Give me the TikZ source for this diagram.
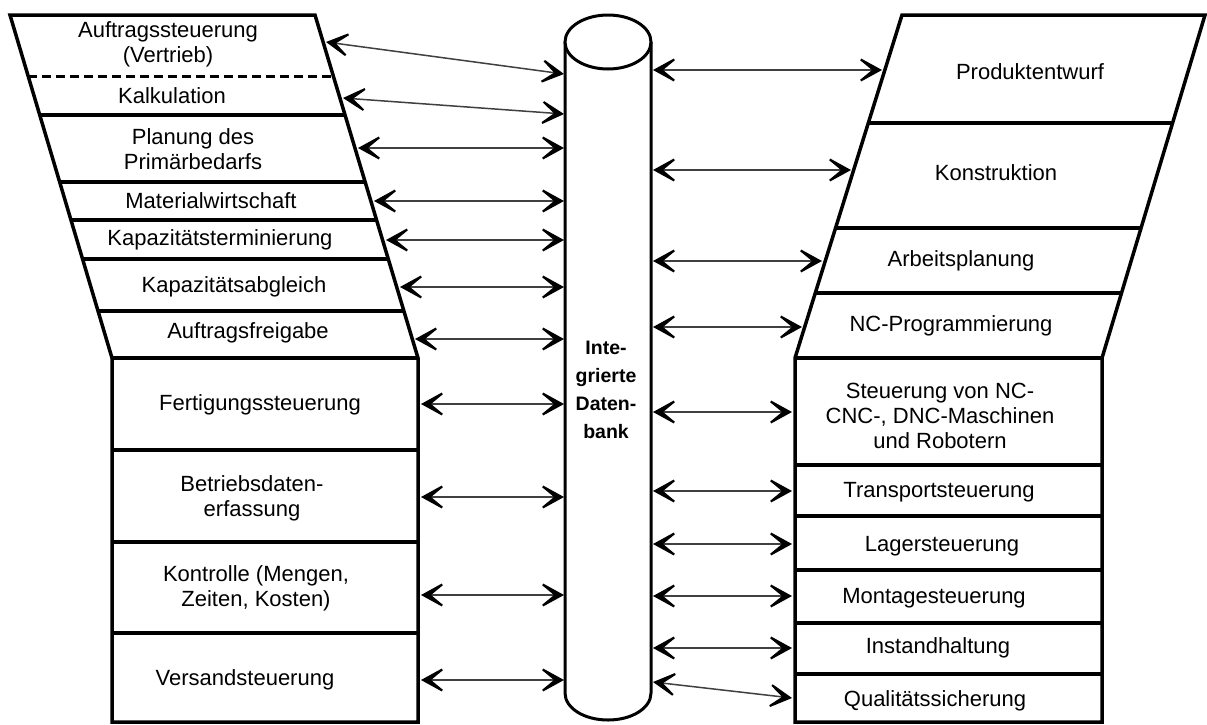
\documentclass[tikz,border=0pt]{standalone}
\usepackage{fontspec}
\setmainfont{Liberation Sans}
\usetikzlibrary{arrows.meta,calc}
\begin{document}
\begin{tikzpicture}[x=1pt,y=-1pt,
  box/.style={line width=3.5pt, line join=miter},
  sep/.style={line width=3.2pt},
  dsep/.style={line width=3pt, dash pattern=on 9pt off 5pt},
  lbl/.style={font=\fontsize{22}{25}\selectfont, align=center, inner sep=0pt},
  dblbl/.style={font=\fontsize{19.5}{28}\selectfont\bfseries, align=center, inner sep=0pt},
  barb/.tip={Stealth[length=30pt,width=33pt,inset=20pt,line width=2pt,color=black]},
  link/.style={line width=1.5pt, draw=black!75, barb-barb},
]
\useasboundingbox (0,0) rectangle (1207,724);
\fill[white] (0,0) rectangle (1207,724);

% ---------- left block ----------
\coordinate (LTL) at (10,15);
\coordinate (LTR) at (315,15);
\coordinate (LBL) at (112,358);
\coordinate (LBR) at (418,358);
\draw[box] (LTL) -- (LTR) -- (LBR) -- (418,722) -- (112,722) -- (LBL) -- cycle;
\draw[dsep] ($(LTL)!{(76-15)/343}!(LBL)$) -- ($(LTR)!{(76-15)/343}!(LBR)$);
\foreach \yy in {115,182,220,259,311}
  \draw[sep] ($(LTL)!{(\yy-15)/343}!(LBL)$) -- ($(LTR)!{(\yy-15)/343}!(LBR)$);
\foreach \yy in {358,450,542,633}
  \draw[sep] (112,\yy) -- (418,\yy);

% ---------- right block ----------
\coordinate (RTL) at (902,15);
\coordinate (RTR) at (1205,15);
\coordinate (RBL) at (795,358);
\coordinate (RBR) at (1102,358);
\draw[box] (RTL) -- (RTR) -- (RBR) -- (1102,722) -- (795,722) -- (RBL) -- cycle;
\foreach \yy in {123,228,293}
  \draw[sep] ($(RTL)!{(\yy-15)/343}!(RBL)$) -- ($(RTR)!{(\yy-15)/343}!(RBR)$);
\foreach \yy in {358,465,516,570,623,674}
  \draw[sep] (795,\yy) -- (1102,\yy);

% ---------- cylinder ----------
\draw[line width=3pt, fill=white] (565,42) -- (565,693)
  .. controls (565,708) and (584,720) .. (608,720)
  .. controls (632,720) and (651,708) .. (651,693) -- (651,42);
\draw[line width=3pt, fill=white] (608,42) ellipse [x radius=43, y radius=27];
\node[dblbl] (db) at (606,390) {Inte-\\grierte\\Daten-\\bank};

% ---------- texts ----------
\node[lbl] (t1) at (168,44) {Auftragssteuerung\\(Vertrieb)};
\node[lbl] (t2) at (172,96) {Kalkulation};
\node[lbl] (t3) at (193,149) {Planung des\\Primärbedarfs};
\node[lbl] (t4) at (211,201) {Materialwirtschaft};
\node[lbl] (t5) at (220,240) {Kapazitätsterminierung};
\node[lbl] (t6) at (234,287) {Kapazitätsabgleich};
\node[lbl] (t7) at (248,333) {Auftragsfreigabe};
\node[lbl] (t8) at (260,405) {Fertigungssteuerung};
\node[lbl] (t9) at (252,498) {Betriebsdaten-\\erfassung};
\node[lbl] (t10) at (256,588) {Kontrolle (Mengen,\\Zeiten, Kosten)};
\node[lbl] (t11) at (245,680) {Versandsteuerung};

\node[lbl] (r1) at (1030,72) {Produktentwurf};
\node[lbl] (r2) at (996,173) {Konstruktion};
\node[lbl] (r3) at (961,261) {Arbeitsplanung};
\node[lbl] (r4) at (951,326) {NC-Programmierung};
\node[lbl] (r5) at (940,416) {Steuerung von NC-\\CNC-, DNC-Maschinen\\und Robotern};
\node[lbl] (r6) at (939,492) {Transportsteuerung};
\node[lbl] (r7) at (942,546) {Lagersteuerung};
\node[lbl] (r8) at (934,598) {Montagesteuerung};
\node[lbl] (r9) at (938,648) {Instandhaltung};
\node[lbl] (r10) at (935,701) {Qualitätssicherung};

% ---------- connector end points ----------
\coordinate (la1) at (326,42);  \coordinate (ca1) at (564,74);
\coordinate (la2) at (343,98);  \coordinate (ca2) at (564,114);
\coordinate (la3) at (358,148); \coordinate (ca3) at (564,148);
\coordinate (la4) at (374,201); \coordinate (ca4) at (564,201);
\coordinate (la5) at (386,240); \coordinate (ca5) at (564,240);
\coordinate (la6) at (400,287); \coordinate (ca6) at (564,287);
\coordinate (la7) at (415,339); \coordinate (ca7) at (564,339);
\coordinate (la8) at (421,404); \coordinate (ca8) at (564,404);
\coordinate (la9) at (421,497); \coordinate (ca9) at (564,497);
\coordinate (la10) at (421,595); \coordinate (ca10) at (564,595);
\coordinate (la11) at (421,680); \coordinate (ca11) at (564,680);

\coordinate (cb1) at (653,70);  \coordinate (rb1) at (882,70);
\coordinate (cb2) at (653,170); \coordinate (rb2) at (851,170);
\coordinate (cb3) at (653,261); \coordinate (rb3) at (822,261);
\coordinate (cb4) at (653,327); \coordinate (rb4) at (802,327);
\coordinate (cb5) at (653,412); \coordinate (rb5) at (792,412);
\coordinate (cb6) at (653,491); \coordinate (rb6) at (792,491);
\coordinate (cb7) at (653,544); \coordinate (rb7) at (792,544);
\coordinate (cb8) at (653,596); \coordinate (rb8) at (792,596);
\coordinate (cb9) at (653,648); \coordinate (rb9) at (792,648);
\coordinate (cb10) at (653,682); \coordinate (rb10) at (792,698);

\foreach \i in {1,...,11} \draw[link] (la\i) -- (ca\i);
\foreach \i in {1,...,10} \draw[link] (cb\i) -- (rb\i);
\end{tikzpicture}
\end{document}
